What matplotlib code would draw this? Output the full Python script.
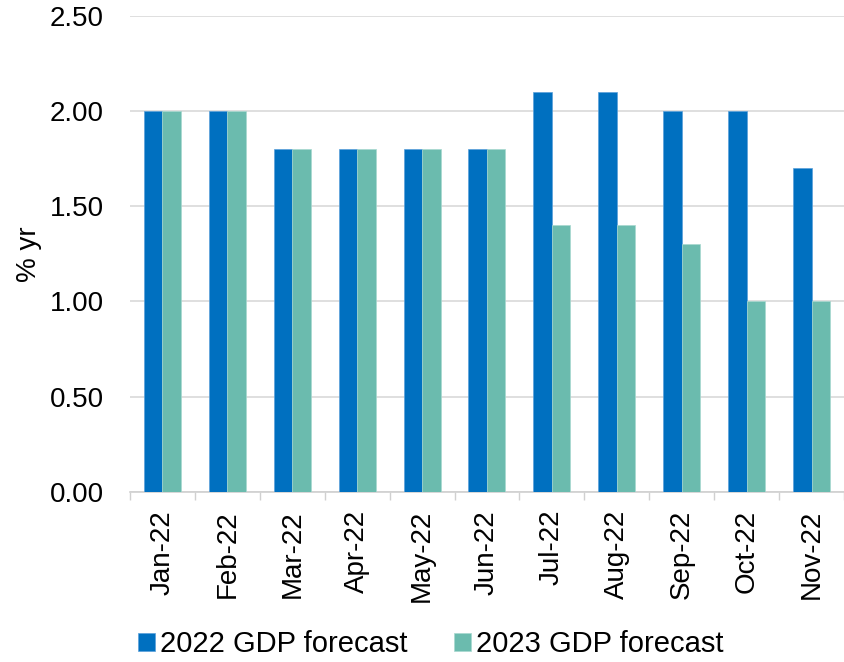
import numpy as np
import matplotlib.pyplot as plt

plt.rcParams['font.family'] = ['Liberation Sans', 'DejaVu Sans']

months = ['Jan-22', 'Feb-22', 'Mar-22', 'Apr-22', 'May-22', 'Jun-22',
          'Jul-22', 'Aug-22', 'Sep-22', 'Oct-22', 'Nov-22']
gdp_2022 = [2.0, 2.0, 1.8, 1.8, 1.8, 1.8, 2.1, 2.1, 2.0, 2.0, 1.7]
gdp_2023 = [2.0, 2.0, 1.8, 1.8, 1.8, 1.8, 1.4, 1.4, 1.3, 1.0, 1.0]

blue = '#0070C0'
green = '#6BBBAE'
fs = 20

fig = plt.figure(figsize=(8.44, 6.62), dpi=100)
ax = fig.add_axes([0.154, 0.257, 0.846, 0.719])

x = np.arange(len(months))
w = 0.285
ax.bar(x - w / 2, gdp_2022, w, color=blue, edgecolor='#5AA0DA', linewidth=0.5,
       label='2022 GDP forecast', zorder=3)
ax.bar(x + w / 2, gdp_2023, w, color=green, edgecolor='#A8D8CF', linewidth=0.5,
       label='2023 GDP forecast', zorder=3)

ax.set_xlim(-0.5, len(months) - 0.5)
ax.set_ylim(0, 2.5)
yt = np.arange(0, 2.51, 0.5)
ax.set_yticks(yt)
ax.set_yticklabels([f'{v:.2f}' for v in yt], fontsize=fs)
ax.set_xticks(x)
ax.set_xticklabels(months, rotation=90, fontsize=fs)
ax.set_xticks(np.arange(-0.5, len(months), 1), minor=True)
ax.tick_params(axis='x', which='major', length=0, pad=13)
ax.tick_params(axis='x', which='minor', length=6, color='#D0D0D0', width=1)
ax.tick_params(axis='y', length=0, pad=19)
ax.set_ylabel('% yr', fontsize=fs)
ax.yaxis.set_label_coords(-0.123, 0.5)

ax.grid(axis='y', color='#D9D9D9', linewidth=1.2, zorder=0)
for side in ['top', 'right', 'left']:
    ax.spines[side].set_visible(False)
ax.spines['bottom'].set_color('#D0D0D0')
ax.spines['bottom'].set_linewidth(1.2)

fig.legend(loc='lower center', bbox_to_anchor=(0.51, -0.034), ncol=2, frameon=False,
           fontsize=21, handlelength=0.6, handleheight=0.6, handletextpad=0.15,
           columnspacing=1.6)

fig.savefig('out.png', dpi=100)
